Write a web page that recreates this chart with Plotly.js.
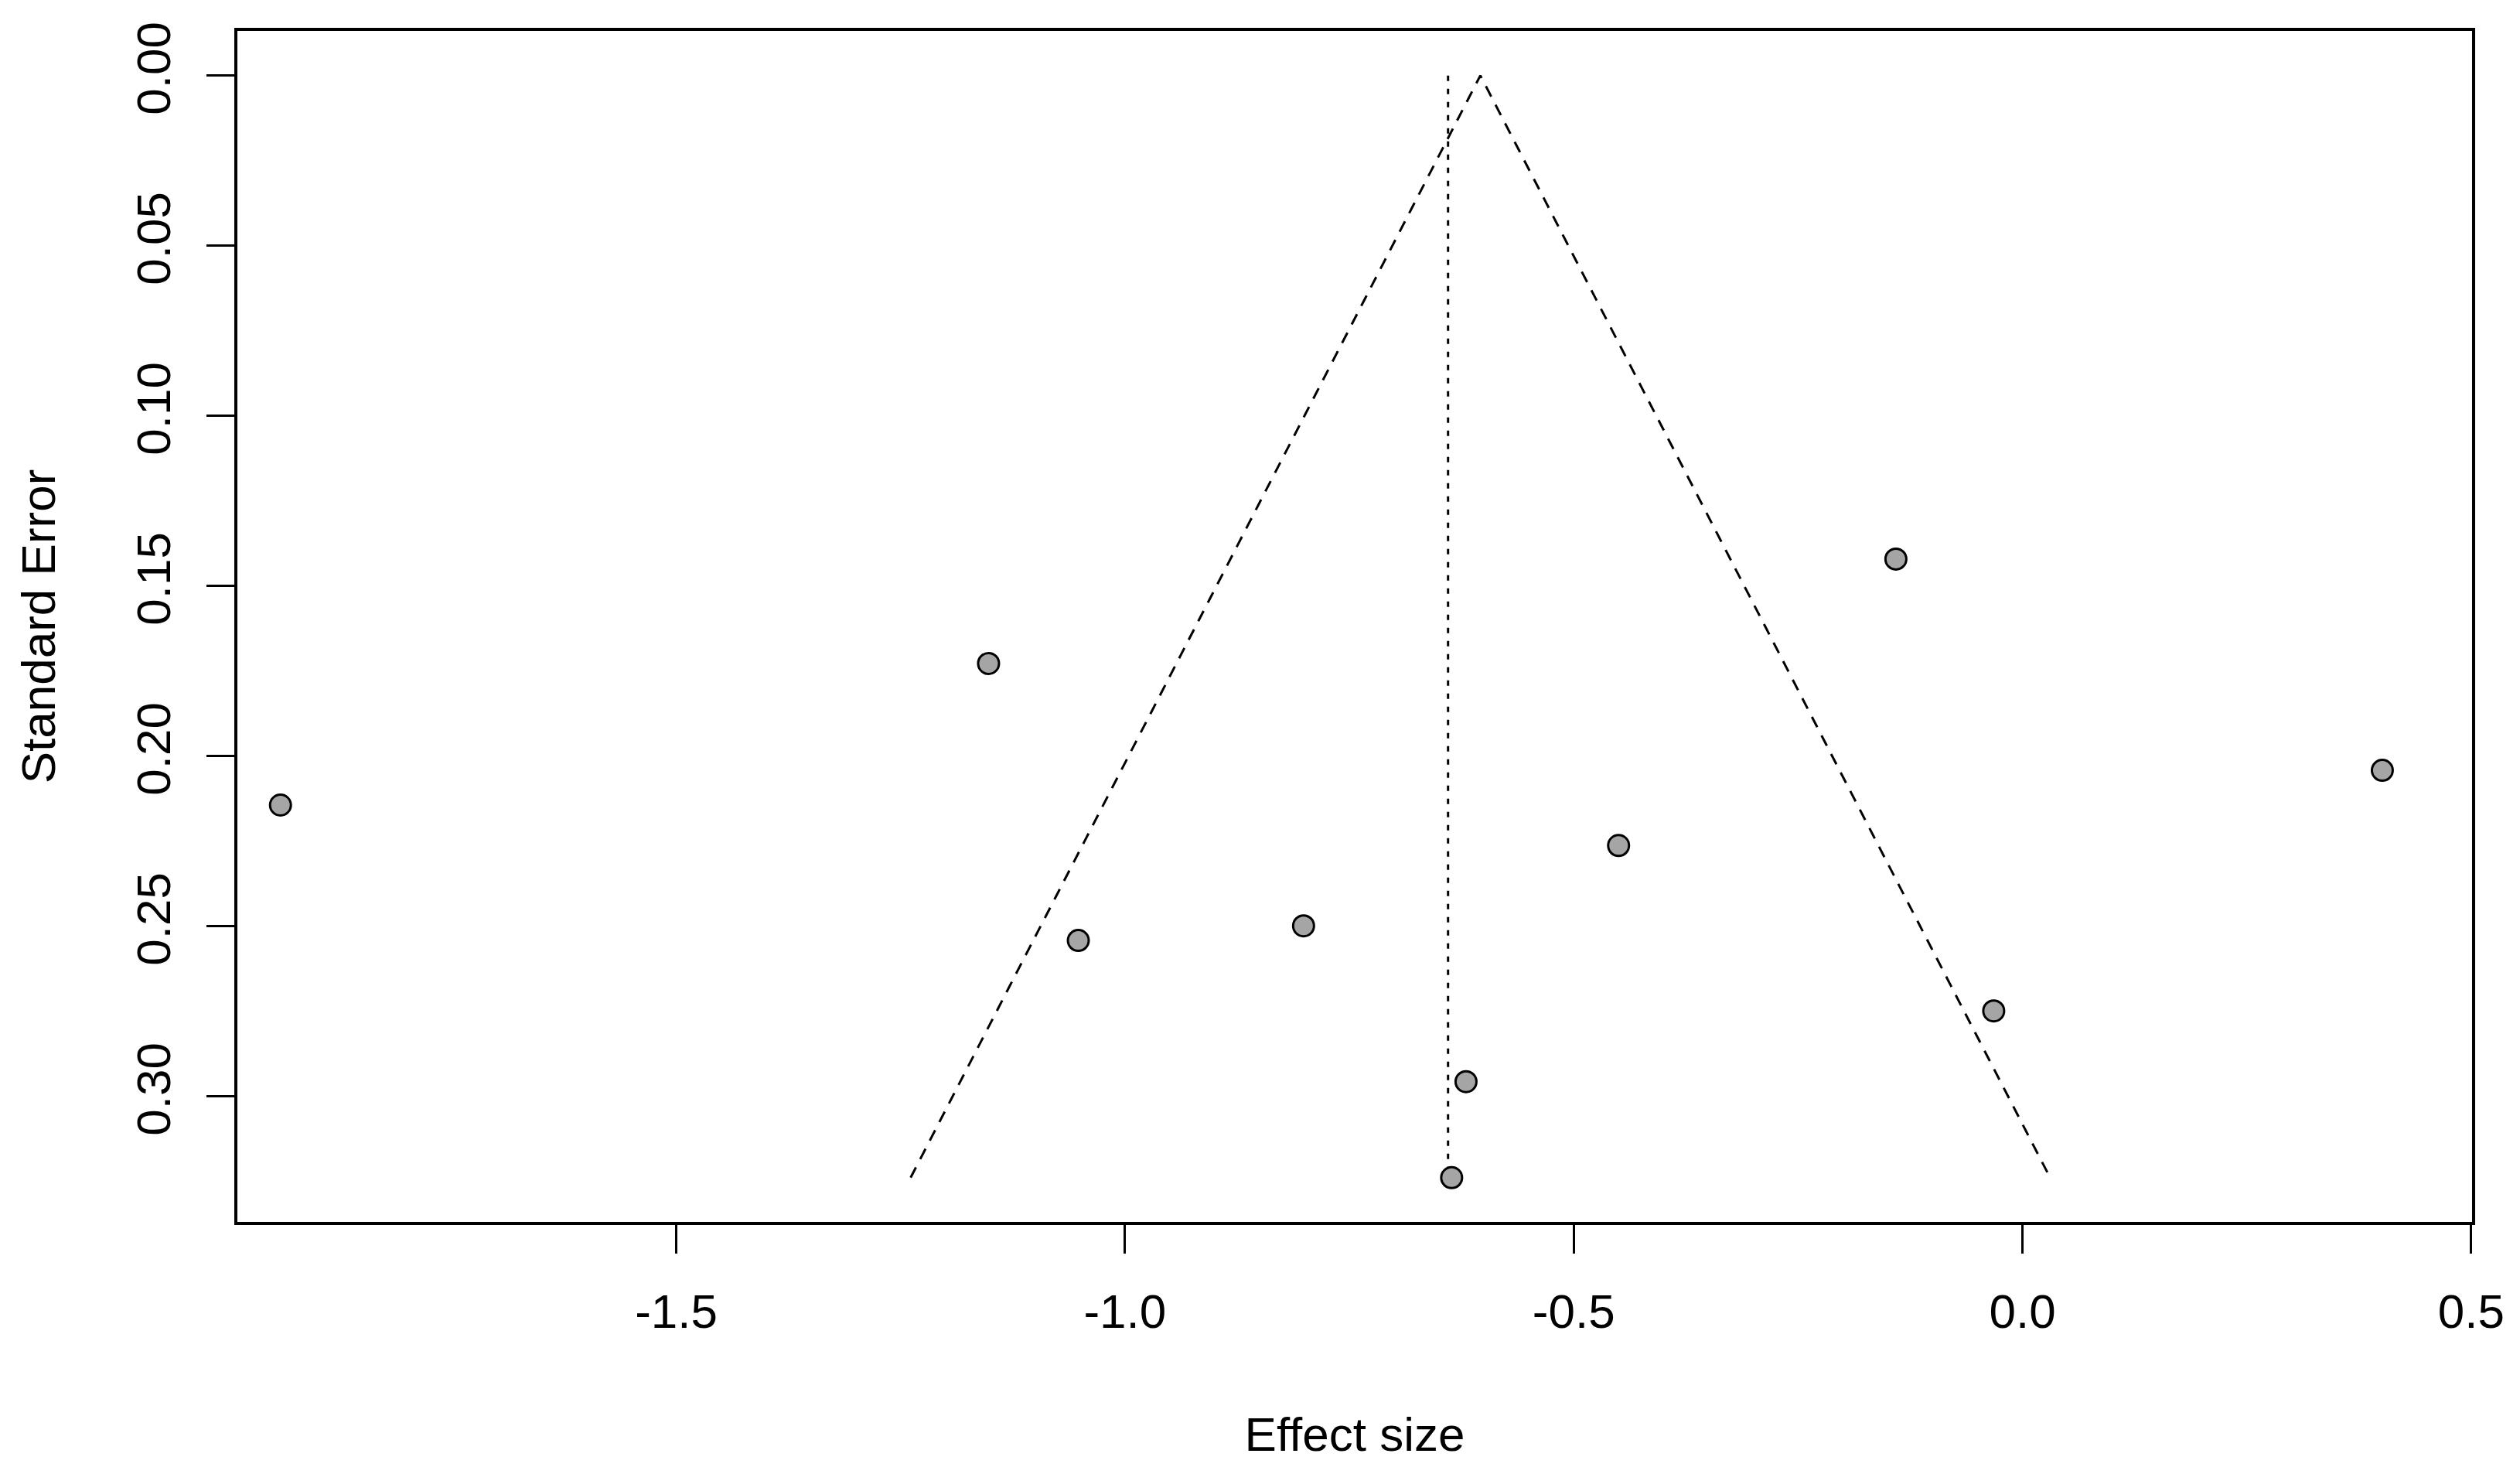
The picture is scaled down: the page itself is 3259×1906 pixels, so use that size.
<!DOCTYPE html>
<html>
<head>
<meta charset="utf-8">
<script src="https://cdn.plot.ly/plotly-3.0.1.min.js"></script>
<style>
  html, body { margin: 0; padding: 0; background: #ffffff; }
  #chart { width: 3259px; height: 1906px; }
</style>
</head>
<body>
<div id="chart"></div>
<script>
// ---- Data ----
const effectSize = [-1.941, -1.152, -1.052, -0.801, -0.636, -0.620, -0.450, -0.141, -0.032, 0.401];
const standardError = [0.2144, 0.1728, 0.2542, 0.2499, 0.3239, 0.2957, 0.2263, 0.1421, 0.2749, 0.2042];
const funnelCenter = -0.604;   // centre of the pseudo-confidence funnel
const referenceLine = -0.640;  // vertical dotted reference line
const zCrit = 1.96;
const xTickVals = [-1.5, -1.0, -0.5, 0.0, 0.5];
const xTickText = ["-1.5", "-1.0", "-0.5", "0.0", "0.5"];
const yTickVals = [0.00, 0.05, 0.10, 0.15, 0.20, 0.25, 0.30];
const yTickText = ["0.00", "0.05", "0.10", "0.15", "0.20", "0.25", "0.30"];
const xTitle = "Effect size";
const yTitle = "Standard Error";

const seMax = Math.max(...standardError);

const funnelTrace = {
  type: "scatter", mode: "lines",
  x: [funnelCenter - zCrit * seMax, funnelCenter, funnelCenter + zCrit * seMax],
  y: [seMax, 0, seMax],
  line: { color: "#000000", width: 3, dash: "15px,12px" },
  hoverinfo: "skip", showlegend: false
};
const refTrace = {
  type: "scatter", mode: "lines",
  x: [referenceLine, referenceLine],
  y: [0, seMax],
  line: { color: "#000000", width: 3, dash: "7px,10px" },
  hoverinfo: "skip", showlegend: false
};
const pointTrace = {
  type: "scatter", mode: "markers",
  x: effectSize, y: standardError,
  marker: { size: 27, color: "#a5a5a5", line: { color: "#000000", width: 3 } },
  showlegend: false
};

const font = { family: "Liberation Sans, Arial, sans-serif", size: 62, color: "#000000" };

const layout = {
  width: 3259, height: 1906,
  margin: { l: 307, r: 62, t: 40, b: 326, pad: 0 },
  paper_bgcolor: "#ffffff", plot_bgcolor: "#ffffff",
  font: font,
  showlegend: false,
  xaxis: {
    range: [-1.989, 0.501],
    tickmode: "array", tickvals: xTickVals, ticktext: xTickText,
    ticks: "outside", ticklen: 37, tickwidth: 3, tickcolor: "#000000",
    showline: true, linewidth: 4, linecolor: "#000000", mirror: true,
    showgrid: false, zeroline: false,
    tickfont: font,
    ticklabelstandoff: 22,
    title: { text: xTitle, font: font, standoff: 104 },
    automargin: false
  },
  yaxis: {
    range: [0.3369, -0.0131],
    tickmode: "array", tickvals: yTickVals, ticktext: yTickText,
    tickangle: -90,
    ticks: "outside", ticklen: 36, tickwidth: 3, tickcolor: "#000000",
    showline: true, linewidth: 4, linecolor: "#000000", mirror: true,
    showgrid: false, zeroline: false,
    tickfont: font,
    ticklabelstandoff: 22,
    title: { text: yTitle, font: font, standoff: 74 },
    automargin: false
  }
};

Plotly.newPlot("chart", [funnelTrace, refTrace, pointTrace], layout, { displayModeBar: false, staticPlot: true });
</script>
</body>
</html>
